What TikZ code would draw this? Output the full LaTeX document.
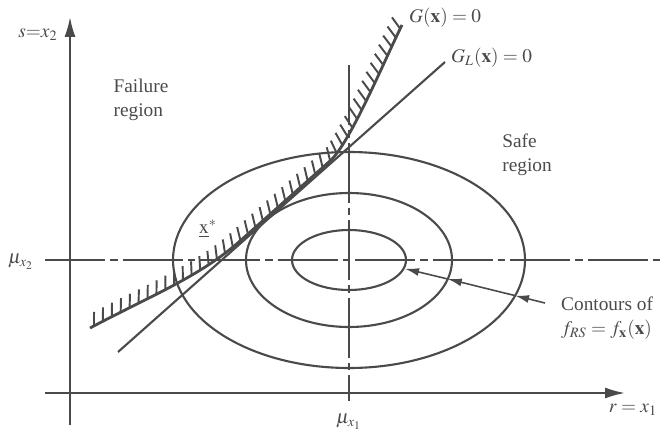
\documentclass[tikz,border=0pt]{standalone}
\usepackage{mathptmx}
\usepackage{fontspec}
\setmainfont{Liberation Serif}
\usepackage{xcolor}
\usepackage{tikz}
\usetikzlibrary{arrows.meta, decorations.markings}
\definecolor{relink}{HTML}{4A4A4A}

\tikzset{
  axisline/.style={line width=1.1pt, -{Latex[length=0.4cm, width=0.22cm]}},
  contour/.style={line width=1.2pt},
  dashdot/.style={line width=1pt, dash pattern=on 1.2cm off 0.1cm on 0.15cm off 0.1cm},
  limitcurve/.style={line width=1.6pt},
  hatchside/.style={decorate, decoration={markings,
      mark=between positions 0.01 and 0.995 step 0.2cm with {\draw[line width=1.1pt] (0, 0) -- (62:0.28cm);}}},
  pointer/.style={line width=0.9pt, -{Latex[length=0.28cm, width=0.16cm]}},
  lbl/.style={font=\fontsize{11}{13.5}\selectfont, align=left}
}

\begin{document}
\begin{tikzpicture}[color=relink, text=relink]
    \useasboundingbox (0, 0) rectangle (13.4, 8.74);

    % Axes
    \coordinate (xstart) at (0.9, 0.88);
    \coordinate (xend) at (12.5, 0.88);
    \coordinate (ystart) at (1.4, 0.24);
    \coordinate (yend) at (1.4, 8.4);
    \draw[axisline] (xstart) -- (xend);
    \draw[axisline] (ystart) -- (yend);
    \node[lbl] (ylab) at (0.76, 8.04) {$s{=}x_2$};
    \node[lbl] (xlab) at (12.66, 0.54) {$r = x_1$};

    % Mean lines
    \draw[dashdot] (0.9, 3.54) -- (13.3, 3.54);
    \draw[dashdot] (6.98, 7.44) -- (6.98, 0.72);
    \node[lbl] (mutwo) at (0.42, 3.5) {$\mu_{x_2}$};
    \node[lbl] (muone) at (6.98, 0.3) {$\mu_{x_1}$};

    % Contours
    \draw[contour] (6.98, 3.54) ellipse (3.52 and 2.16);
    \draw[contour] (6.98, 3.54) ellipse (2.06 and 1.34);
    \draw[contour] (6.98, 3.54) ellipse (1.14 and 0.6);

    % Limit state and its linearisation
    \draw[contour] (2.36, 1.7) -- (8.9, 7.5);
    \draw[limitcurve, postaction={hatchside}] (1.8, 2.18) .. controls (3.0, 2.816) and (4.0, 3.21) .. (4.8, 3.92)
        -- (6.6, 5.52) .. controls (7.0, 5.874) and (7.7, 7.56) .. (8.04, 8.24);
    \node[lbl, anchor=west] (glab) at (8.06, 8.38) {$G(\mathbf{x}) = 0$};
    \node[lbl, anchor=west] (gllab) at (8.9, 7.58) {$G_L(\mathbf{x}) = 0$};
    \node[lbl] (xstar) at (4.16, 4.16) {$\underline{\mathrm{x}}^{*}$};

    % Regions
    \node[lbl] (fail) at (2.82, 6.74) {Failure\\region};
    \node[lbl] (safe) at (10.54, 5.64) {Safe\\region};

    % Pointer to contours
    \node[lbl, anchor=west] (contours) at (11.1, 2.38) {Contours of\\$f_{RS} = f_{\mathbf{x}}(\mathbf{x})$};
    \coordinate (tail) at (10.9, 2.68);
    \coordinate (c3) at (10.3, 2.828);
    \coordinate (c2) at (8.956, 3.16);
    \coordinate (c1) at (8.1, 3.366);
    \draw[pointer] (tail) -- (c3);
    \draw[pointer] (c3) -- (c2);
    \draw[pointer] (c2) -- (c1);
\end{tikzpicture}
\end{document}
